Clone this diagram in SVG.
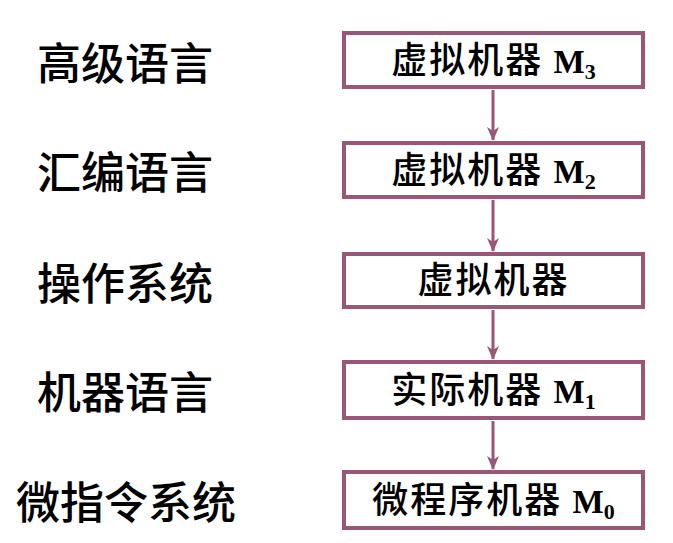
<svg xmlns="http://www.w3.org/2000/svg" width="673" height="543" viewBox="0 0 673 543">
<style>
.box{fill:#ffffff;stroke:#985776;stroke-width:4}
.lbl{font-family:"Noto Sans CJK SC","Noto Sans CJK TC",sans-serif;font-size:44px;font-weight:500;fill:#000;text-anchor:middle}
.btx{font-family:"Noto Sans CJK SC","Noto Sans CJK TC",sans-serif;font-size:36px;font-weight:500;letter-spacing:2px;fill:#000;text-anchor:middle}
.m{font-family:"Liberation Serif","Times New Roman",serif;font-weight:bold;font-size:33px;letter-spacing:0}
.sub{font-family:"Liberation Serif","Times New Roman",serif;font-weight:bold;font-size:22px;letter-spacing:0}
.conn{stroke:#985776;stroke-width:3;fill:none}
</style>
<defs>
<marker id="arr" viewBox="0 0 14 12" refX="13" refY="6" markerWidth="14" markerHeight="12" markerUnits="userSpaceOnUse" orient="auto">
<path d="M0,0 L14,6 L0,12 L4,6 Z" fill="#985776"/>
</marker>
</defs>
<g id="labels">
<text id="lbl-high" class="lbl" x="125" y="80">高级语言</text>
<text id="lbl-asm" class="lbl" x="125" y="189">汇编语言</text>
<text id="lbl-os" class="lbl" x="125" y="300">操作系统</text>
<text id="lbl-ml" class="lbl" x="125" y="409">机器语言</text>
<text id="lbl-micro" class="lbl" x="126" y="519">微指令系统</text>
</g>
<g id="connectors">
<line class="conn" x1="493" y1="90" x2="493" y2="140" marker-end="url(#arr)"/>
<line class="conn" x1="493" y1="200" x2="493" y2="251" marker-end="url(#arr)"/>
<line class="conn" x1="493" y1="310" x2="493" y2="359" marker-end="url(#arr)"/>
<line class="conn" x1="493" y1="421" x2="493" y2="469" marker-end="url(#arr)"/>
</g>
<g id="node-m3">
<rect class="box" x="344" y="33" width="299" height="54"/>
<text class="btx" x="493.5" y="73">虚拟机器 <tspan class="m">M</tspan><tspan class="sub" dy="6">3</tspan></text>
</g>
<g id="node-m2">
<rect class="box" x="344" y="143" width="299" height="54"/>
<text class="btx" x="493.5" y="183">虚拟机器 <tspan class="m">M</tspan><tspan class="sub" dy="6">2</tspan></text>
</g>
<g id="node-os">
<rect class="box" x="344" y="254" width="299" height="53"/>
<text class="btx" x="493.5" y="293">虚拟机器</text>
</g>
<g id="node-m1">
<rect class="box" x="344" y="362" width="299" height="56"/>
<text class="btx" x="493.5" y="403">实际机器 <tspan class="m">M</tspan><tspan class="sub" dy="6">1</tspan></text>
</g>
<g id="node-m0">
<rect class="box" x="344" y="472" width="299" height="56"/>
<text class="btx" x="493.5" y="513">微程序机器 <tspan class="m">M</tspan><tspan class="sub" dy="6">0</tspan></text>
</g>
</svg>
